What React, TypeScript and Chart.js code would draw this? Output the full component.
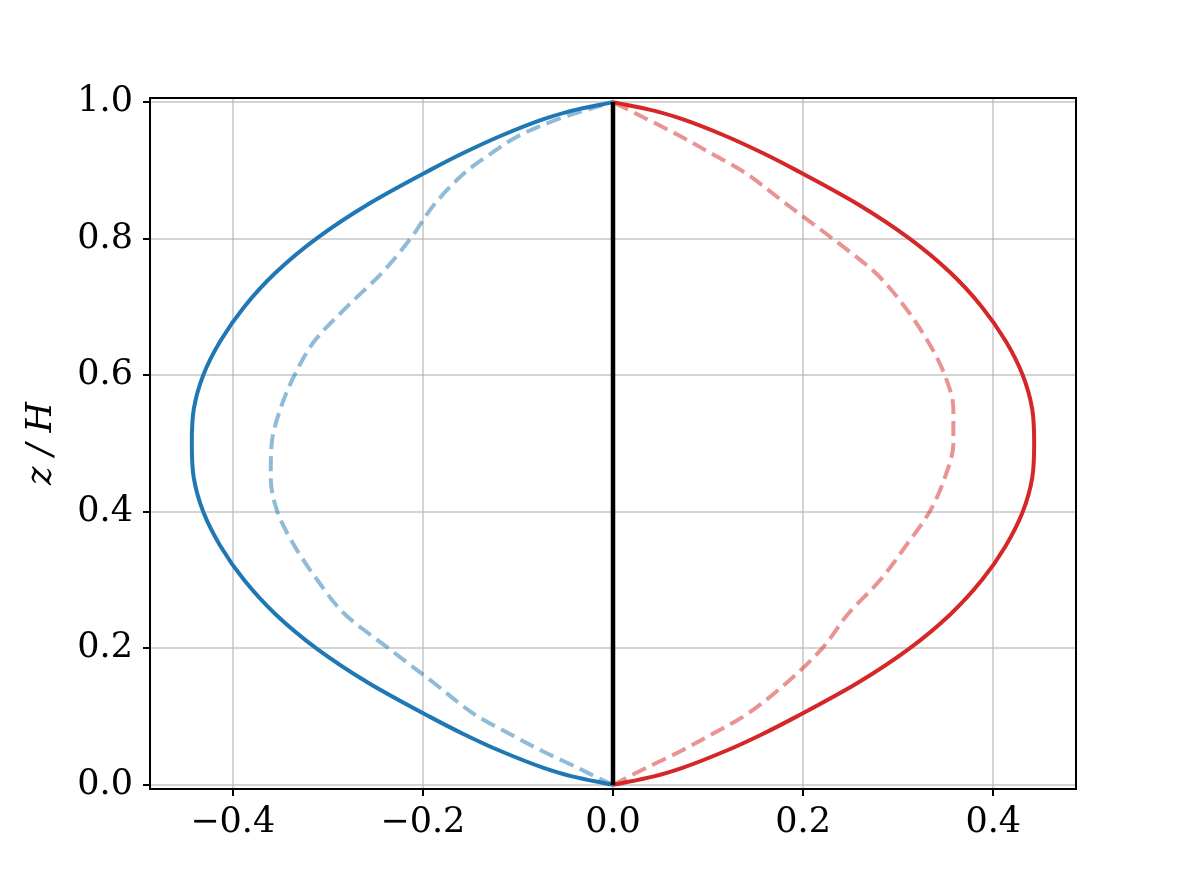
import React, { useEffect, useRef } from "react";
import { Chart, registerables } from "chart.js";

Chart.register(...registerables);

// Heights z / H at which the profiles were read
const zLevels = [0, 0.0125, 0.025, 0.05, 0.075, 0.1, 0.15, 0.2, 0.25, 0.3, 0.35, 0.4, 0.45, 0.5, 0.55, 0.6, 0.65, 0.7, 0.75, 0.8, 0.85, 0.9, 0.925, 0.95, 0.975, 0.9875, 1.0];

// Solid profiles
const solidBlue = [0, -0.043, -0.073, -0.119, -0.158, -0.193, -0.258, -0.312, -0.355, -0.388, -0.413, -0.431, -0.441, -0.443, -0.441, -0.431, -0.413, -0.388, -0.355, -0.312, -0.258, -0.193, -0.158, -0.119, -0.073, -0.043, 0];
const solidRed = [0, 0.043, 0.073, 0.119, 0.158, 0.193, 0.258, 0.312, 0.355, 0.388, 0.413, 0.431, 0.441, 0.443, 0.441, 0.431, 0.413, 0.388, 0.355, 0.312, 0.258, 0.193, 0.158, 0.119, 0.073, 0.043, 0];

// Dashed (lighter) profiles
const dashedBlue = [0, -0.019, -0.037, -0.075, -0.109, -0.142, -0.189, -0.236, -0.282, -0.311, -0.335, -0.353, -0.36, -0.359, -0.35, -0.335, -0.314, -0.28, -0.243, -0.213, -0.188, -0.153, -0.128, -0.1, -0.058, -0.031, 0];
const dashedRed = [0, 0.017, 0.035, 0.072, 0.105, 0.137, 0.183, 0.22, 0.247, 0.281, 0.308, 0.333, 0.349, 0.358, 0.358, 0.349, 0.331, 0.307, 0.276, 0.231, 0.183, 0.135, 0.103, 0.071, 0.036, 0.018, 0];

// Vertical reference line
const centerLineX = [0, 0];
const centerLineZ = [0, 1];

// Axes
const xTicks = [-0.4, -0.2, 0.0, 0.2, 0.4];
const yTicks = [0.0, 0.2, 0.4, 0.6, 0.8, 1.0];
const xRange = [-0.487, 0.487];
const yRange = [-0.006, 1.006];
const yTitle = "z / H";

const toPoints = (xs: number[], zs: number[]) => xs.map((x, i) => ({ x, y: zs[i] }));
const fmt = (v: number) => Number(v).toFixed(1).replace("-", "\u2212");

const FONT = "'DejaVu Serif', 'Liberation Serif', serif";

const framePlugin = {
  id: "frame",
  afterDatasetsDraw(chart: any) {
    const { ctx, chartArea } = chart;
    ctx.save();
    ctx.strokeStyle = "#000";
    ctx.lineWidth = 2;
    ctx.strokeRect(chartArea.left, chartArea.top, chartArea.right - chartArea.left, chartArea.bottom - chartArea.top);
    ctx.restore();
  },
};

export default function App() {
  const ref = useRef<HTMLCanvasElement | null>(null);

  useEffect(() => {
    if (!ref.current) return;
    const common = {
      showLine: true,
      pointRadius: 0,
      borderWidth: 4,
      fill: false,
      cubicInterpolationMode: "monotone",
    };
    const chart = new Chart(ref.current, {
      type: "line",
      data: {
        datasets: [
          {
            ...common,
            label: "center",
            data: toPoints(centerLineX, centerLineZ),
            borderColor: "#000000",
            borderWidth: 4.5,
            order: 0,
          },
          {
            ...common,
            label: "solid blue",
            data: toPoints(solidBlue, zLevels),
            borderColor: "#1f77b4",
            order: 1,
          },
          {
            ...common,
            label: "solid red",
            data: toPoints(solidRed, zLevels),
            borderColor: "#d62728",
            order: 1,
          },
          {
            ...common,
            label: "dashed blue",
            data: toPoints(dashedBlue, zLevels),
            borderColor: "rgba(31,119,180,0.5)",
            borderDash: [15, 7],
            order: 2,
          },
          {
            ...common,
            label: "dashed red",
            data: toPoints(dashedRed, zLevels),
            borderColor: "rgba(214,39,40,0.5)",
            borderDash: [15, 7],
            order: 2,
          },
        ],
      },
      options: {
        animation: false,
        responsive: false,
        devicePixelRatio: 1,
        indexAxis: "y",
        layout: { padding: { left: 0, top: 98, right: 120, bottom: 0 } },
        plugins: {
          legend: { display: false },
          tooltip: { enabled: false },
          title: { display: false },
        },
        scales: {
          x: {
            type: "linear",
            min: xRange[0],
            max: xRange[1],
            afterBuildTicks: (axis: any) => {
              axis.ticks = xTicks.map((v) => ({ value: v }));
            },
            afterFit: (axis: any) => {
              axis.height = 98;
            },
            border: { display: false },
            grid: {
              color: "rgba(176,176,176,0.55)",
              lineWidth: 2,
              drawTicks: true,
              tickColor: "#000",
              tickWidth: 2,
              tickLength: 7,
            },
            ticks: {
              color: "#000",
              font: { family: FONT, size: 35 },
              padding: 6,
              maxRotation: 0,
              autoSkip: false,
              callback: (v: any) => fmt(v),
            },
          },
          y: {
            type: "linear",
            min: yRange[0],
            max: yRange[1],
            afterBuildTicks: (axis: any) => {
              axis.ticks = yTicks.map((v) => ({ value: v }));
            },
            afterFit: (axis: any) => {
              axis.width = 150;
            },
            border: { display: false },
            grid: {
              color: "rgba(176,176,176,0.55)",
              lineWidth: 2,
              drawTicks: true,
              tickColor: "#000",
              tickWidth: 2,
              tickLength: 7,
            },
            ticks: {
              color: "#000",
              font: { family: FONT, size: 35 },
              padding: 10,
              autoSkip: false,
              callback: (v: any) => fmt(v),
            },
            title: {
              display: true,
              text: yTitle,
              color: "#000",
              font: { family: FONT, size: 35, style: "italic" },
              padding: { top: 21, bottom: 0 },
            },
          },
        },
      },
      plugins: [framePlugin],
    } as any);
    return () => chart.destroy();
  }, []);

  return (
    <div style={{ position: "fixed", left: 0, top: 0, width: 1196, height: 887, background: "#fff" }}>
      <canvas ref={ref} width={1196} height={887} style={{ display: "block", width: 1196, height: 887 }} />
    </div>
  );
}
